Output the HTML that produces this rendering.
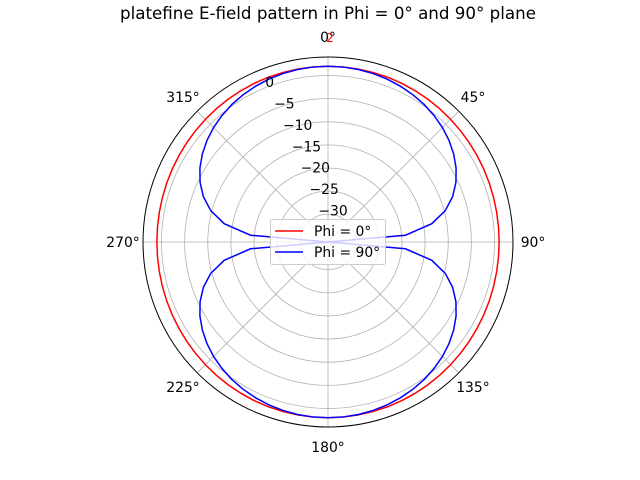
<!DOCTYPE html>
<html><head><meta charset="utf-8"><style>
html,body{margin:0;padding:0;background:#fff;}
svg{display:block;font-family:"DejaVu Sans","Liberation Sans",sans-serif;}
</style></head><body>
<svg id="chart" width="640" height="480" viewBox="0 0 640 480"></svg>
<script>
const angles = [0,5,10,15,20,25,30,35,40,45,50,55,60,65,70,75,80,85,90,95,100,105,110,115,120,125,130,135,140,145,150,155,160,165,170,175,180,185,190,195,200,205,210,215,220,225,230,235,240,245,250,255,260,265,270,275,280,285,290,295,300,305,310,315,320,325,330,335,340,345,350,355,360];
const phi0 = [2,1.99,1.97,1.93,1.88,1.82,1.75,1.67,1.59,1.5,1.41,1.33,1.25,1.18,1.12,1.07,1.03,1.01,1.0,1.01,1.03,1.07,1.12,1.18,1.25,1.33,1.41,1.5,1.59,1.67,1.75,1.82,1.88,1.93,1.97,1.99,2,1.99,1.97,1.93,1.88,1.82,1.75,1.67,1.59,1.5,1.41,1.33,1.25,1.18,1.12,1.07,1.03,1.01,1.0,1.01,1.03,1.07,1.12,1.18,1.25,1.33,1.41,1.5,1.59,1.67,1.75,1.82,1.88,1.93,1.97,1.99,2];
const phi90 = [2,1.97,1.87,1.7,1.46,1.14,0.75,0.27,-0.32,-1.01,-1.84,-2.83,-4.02,-5.48,-7.32,-9.74,-13.21,-19.19,-36,-19.19,-13.21,-9.74,-7.32,-5.48,-4.02,-2.83,-1.84,-1.01,-0.32,0.27,0.75,1.14,1.46,1.7,1.87,1.97,2,1.97,1.87,1.7,1.46,1.14,0.75,0.27,-0.32,-1.01,-1.84,-2.83,-4.02,-5.48,-7.32,-9.74,-13.21,-19.19,-36,-19.19,-13.21,-9.74,-7.32,-5.48,-4.02,-2.83,-1.84,-1.01,-0.32,0.27,0.75,1.14,1.46,1.7,1.87,1.97,2];
const rTicks = [-35,-30,-25,-20,-15,-10,-5,0];
const rTickLabels = ["","\u221230","\u221225","\u221220","\u221215","\u221210","\u22125","0"];
const thetaTicks = [0,45,90,135,180,225,270,315];
const rMin = -36, rMax = 4;
const cx = 328, cy = 242, R = 185;
const NS = "http://www.w3.org/2000/svg";
const svg = document.getElementById('chart');
function rScale(v){ v=Math.max(rMin,Math.min(rMax,v)); return (v-rMin)/(rMax-rMin)*R; }
function pt(thDeg, v){ const t=thDeg*Math.PI/180, r=rScale(v); return [cx+r*Math.sin(t), cy-r*Math.cos(t)]; }
function mk(tag, attrs, parent){ const e=document.createElementNS(NS,tag); for(const k in attrs) e.setAttribute(k,attrs[k]); (parent||svg).appendChild(e); return e; }

const title = mk('text',{x:328,y:19,'text-anchor':'middle','font-size':16.7,fill:'#000'});
title.textContent = 'platefine E-field pattern in Phi = 0\u00b0 and 90\u00b0 plane';



const grid = mk('g',{});


rTicks.forEach(v=>{
  const c = mk('circle',{cx:cx,cy:cy,r:rScale(v),fill:'none',stroke:'#b0b0b0','stroke-width':0.8},grid);
  
  
});
thetaTicks.forEach(a=>{
  const p = pt(a, rMax);
  const l = mk('line',{x1:cx,y1:cy,x2:p[0],y2:p[1],stroke:'#b0b0b0','stroke-width':0.8},grid);
  
  
});

function series(vals, color, name){
  const d = angles.map((a,i)=>{const p=pt(a,vals[i]);return (i?'L':'M')+p[0].toFixed(2)+','+p[1].toFixed(2);}).join('');
  const p = mk('path',{d:d,fill:'none',stroke:color,'stroke-width':1.5});
  
  
}
series(phi0,'#ff0000','series-phi-0');
series(phi90,'#0000ff','series-phi-90');

const outer = mk('circle',{cx:cx,cy:cy,r:R,fill:'none',stroke:'#000','stroke-width':1});



thetaTicks.forEach(a=>{
  const t=a*Math.PI/180, r=R+20;
  const tx = mk('text',{x:cx+r*Math.sin(t),y:cy-r*Math.cos(t)+5,'text-anchor':'middle','font-size':13.9,fill:'#000'});
  tx.textContent = a+'\u00b0';
  
  
});
const red2 = mk('text',{x:330,y:42,'text-anchor':'middle','font-size':12,fill:'#ff0000'});
red2.textContent='2';



const la = -22.5*Math.PI/180;
rTicks.forEach((v,i)=>{
  const r=rScale(v);
  const tx = mk('text',{x:cx+r*Math.sin(la)+1,y:cy-r*Math.cos(la)-1,'text-anchor':'start','font-size':13.9,fill:'#000'});
  tx.textContent = rTickLabels[i];
  
  
});

const lg = mk('g',{});


mk('rect',{x:270.5,y:219.5,width:115,height:45,rx:2,fill:'#fff','fill-opacity':0.8,stroke:'#cccccc','stroke-width':1},lg);
[['Phi = 0\u00b0','#ff0000',231],['Phi = 90\u00b0','#0000ff',252]].forEach(e=>{
  const it = mk('g',{},lg);
  
  
  mk('line',{x1:275,y1:e[2],x2:303,y2:e[2],stroke:e[1],'stroke-width':1.5},it);
  const t = mk('text',{x:314,y:e[2]+5,'font-size':13.9,fill:'#000'},it);
  t.textContent = e[0];
});
</script>
</body></html>
